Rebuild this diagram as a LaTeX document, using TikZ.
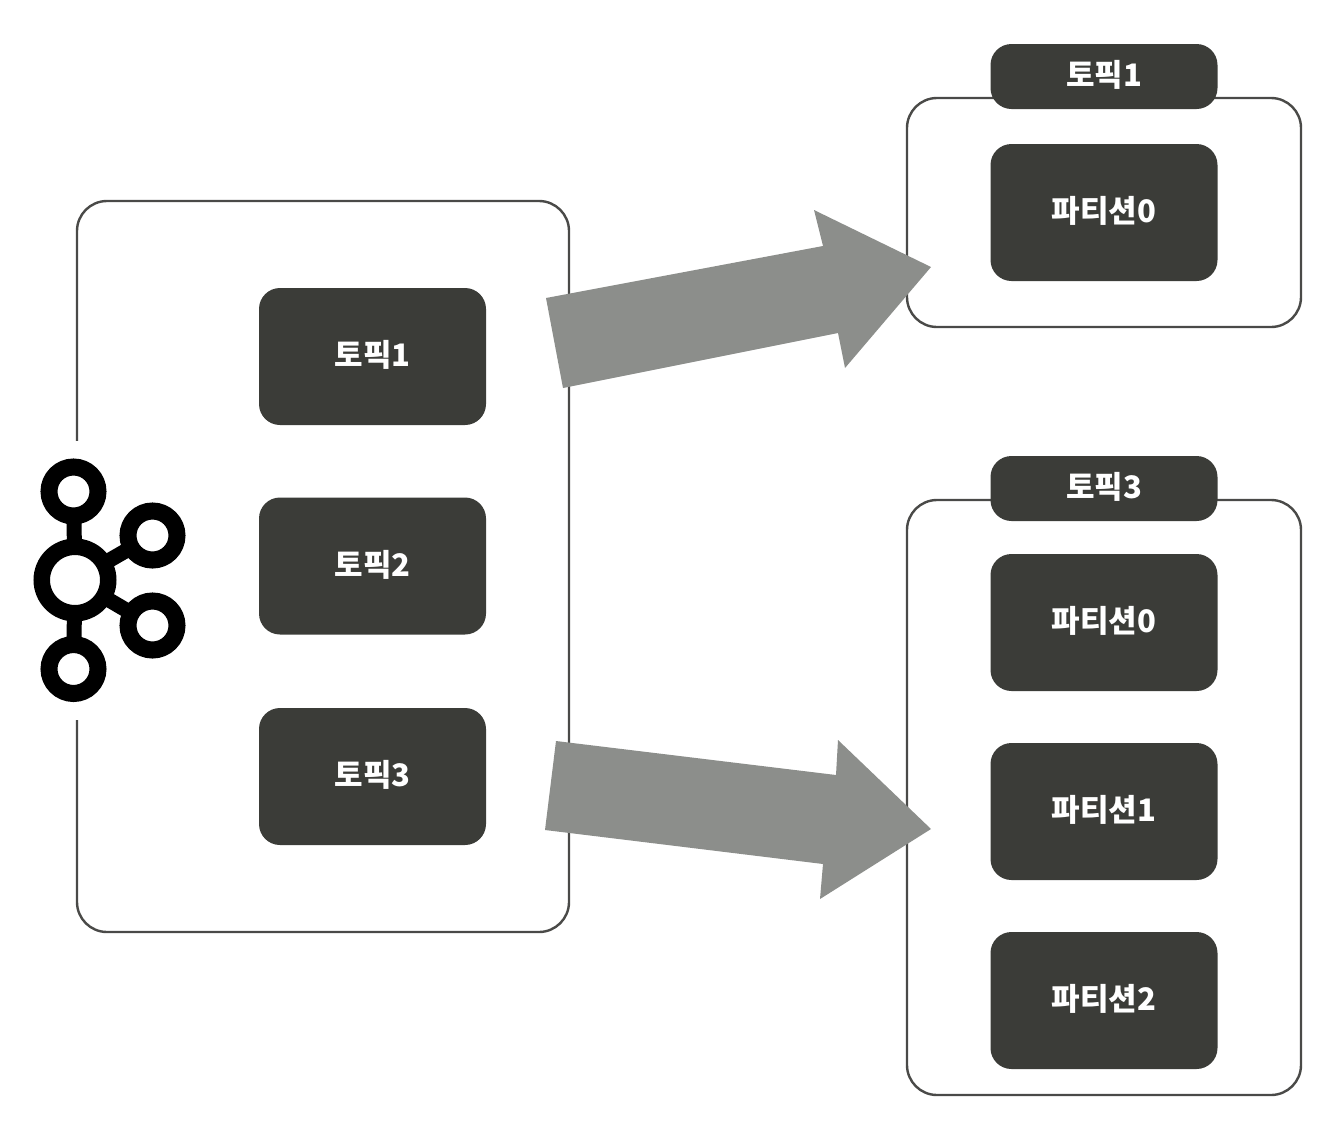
\documentclass[tikz,border=0pt]{standalone}
\usepackage{fontspec}
\newfontfamily\cjk{Noto Sans CJK KR}[BoldFont={* Black}]
\definecolor{boxc}{HTML}{3B3C38}
\definecolor{linec}{HTML}{4A4A48}
\definecolor{arrowc}{HTML}{8C8E8B}
\tikzset{x=1pt,y=-1pt,
  frame/.style={draw=linec,line width=2.4pt,rounded corners=30pt,fill=white},
  pill/.style={fill=boxc,rounded corners=21pt,text=white,font=\cjk\bfseries\fontsize{31}{31}\selectfont,inner sep=0pt,align=center},
  bigarrow/.style={fill=arrowc,draw=none},
  ring/.style={draw=black,line width=17pt,fill=white,circle,inner sep=0pt,minimum size=49pt},
  bigring/.style={draw=black,line width=16.5pt,fill=white,circle,inner sep=0pt,minimum size=66.5pt},
  spoke/.style={draw=black,line width=15pt}}
\newcommand{\pillbox}[6]{\node[pill,minimum width=#4pt,minimum height=#5pt] (#1) at (#2,#3) {\raisebox{1.5pt}[\height][\depth]{#6}};}
\begin{document}
\begin{tikzpicture}
\path[use as bounding box] (0,0) rectangle (1342,1128);
\fill[white] (0,0) rectangle (1342,1128);
\draw[frame] (77,201) rectangle (569,932);
\draw[frame] (907,98) rectangle (1301,327);
\draw[frame] (907,500) rectangle (1301,1095);
\fill[white] (60,441) rectangle (100,720);
\pillbox{t1}{372.5}{356.5}{227}{137}{토픽1}
\pillbox{t2}{372.5}{566}{227}{137}{토픽2}
\pillbox{t3}{372.5}{776.5}{227}{137}{토픽3}
\pillbox{ha}{1104}{76.5}{227}{65}{토픽1}
\pillbox{pa}{1104}{212.5}{227}{137}{파티션0}
\pillbox{hb}{1104}{488.5}{227}{65}{토픽3}
\pillbox{pb}{1104}{622.5}{227}{137}{파티션0}
\pillbox{pc}{1104}{811.5}{227}{137}{파티션1}
\pillbox{pd}{1104}{1000.5}{227}{137}{파티션2}
\fill[bigarrow] (546,298) -- (823,246) -- (814,210) -- (931,267) -- (845,368) -- (838,333) -- (563,388) -- cycle;
\fill[bigarrow] (556,741) -- (836,775) -- (838,740) -- (931,829) -- (820,899) -- (823,864) -- (545,830) -- cycle;
\coordinate (ka) at (73.5,491.5);
\coordinate (kb) at (152.5,535.5);
\coordinate (kc) at (152.5,625.5);
\coordinate (kd) at (73.5,669);
\coordinate (ke) at (75,580);
\draw[spoke] (ka)--(ke) (kb)--(ke) (kc)--(ke) (kd)--(ke);
\node[ring] (ra) at (ka) {};
\node[ring] (rb) at (kb) {};
\node[ring] (rc) at (kc) {};
\node[ring] (rd) at (kd) {};
\node[bigring] (re) at (ke) {};
\end{tikzpicture}
\end{document}
